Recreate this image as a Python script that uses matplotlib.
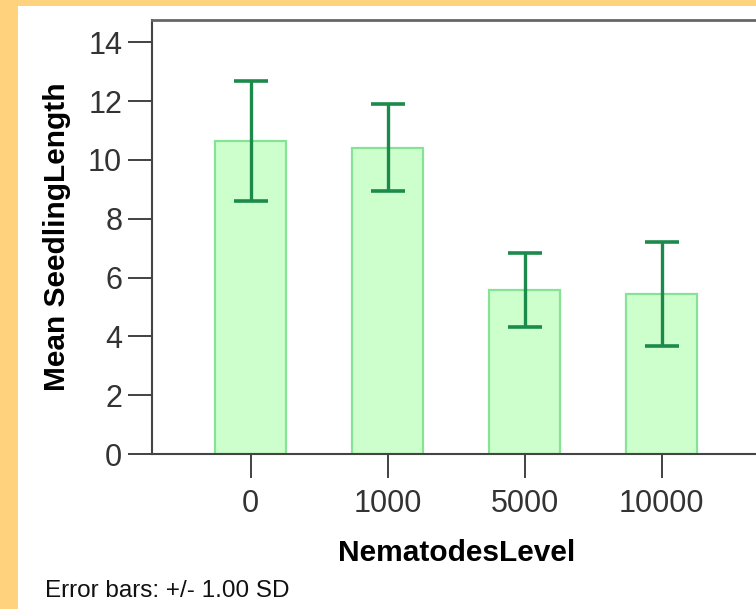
import matplotlib
matplotlib.use("Agg")
import matplotlib.pyplot as plt
from matplotlib.patches import Rectangle

categories = ["0", "1000", "5000", "10000"]
means = [10.66, 10.42, 5.58, 5.44]
sds = [2.04, 1.48, 1.27, 1.76]
yticks = [0, 2, 4, 6, 8, 10, 12, 14]

W, H = 756, 609
fig = plt.figure(figsize=(W / 100, H / 100), dpi=100, facecolor="#FFD37D")
fig.add_artist(Rectangle((18 / W, 0), 1, (H - 6) / H, transform=fig.transFigure,
                         facecolor="white", edgecolor="none", zorder=0))

ax = fig.add_axes([152 / W, (H - 454) / H, 609 / W, 434 / H])
ax.set_facecolor("white")
x = list(range(len(categories)))
ax.bar(x, means, width=0.52, color="#CCFFCC", edgecolor="#86E396", linewidth=1.6, zorder=2)
ax.errorbar(x, means, yerr=sds, fmt="none", ecolor="#1B8A4B", elinewidth=2.4,
            capsize=12.5, capthick=2.6, zorder=3)

ax.set_xlim(-0.72, 3.725)
ax.set_ylim(0, 14.76)
ax.set_xticks(x)
ax.set_xticklabels(categories)
ax.set_yticks(yticks)

font = "Liberation Sans"
for lab in ax.get_xticklabels() + ax.get_yticklabels():
    lab.set_fontfamily(font)
    lab.set_fontsize(22)
    lab.set_color("#333333")
ax.tick_params(axis="both", length=17.5, width=1.3, color="#333333")
ax.tick_params(axis="x", pad=8)
ax.tick_params(axis="y", pad=4)

for s in ["left", "bottom", "top", "right"]:
    ax.spines[s].set_color("#444444")
    ax.spines[s].set_linewidth(1.5)
ax.spines["top"].set_color("#666666")
ax.spines["top"].set_linewidth(2.0)

ax.set_xlabel("NematodesLevel", fontfamily=font, fontweight="bold", fontsize=21.5, labelpad=14)
ax.set_ylabel("Mean SeedlingLength", fontfamily=font, fontweight="bold", fontsize=21.5, labelpad=12)

fig.text(45 / W, (H - 597) / H, "Error bars: +/- 1.00 SD", fontfamily=font, fontsize=17.5,
         color="#111111", ha="left", va="baseline")

fig.savefig("out.png", dpi=100, facecolor=fig.get_facecolor())
